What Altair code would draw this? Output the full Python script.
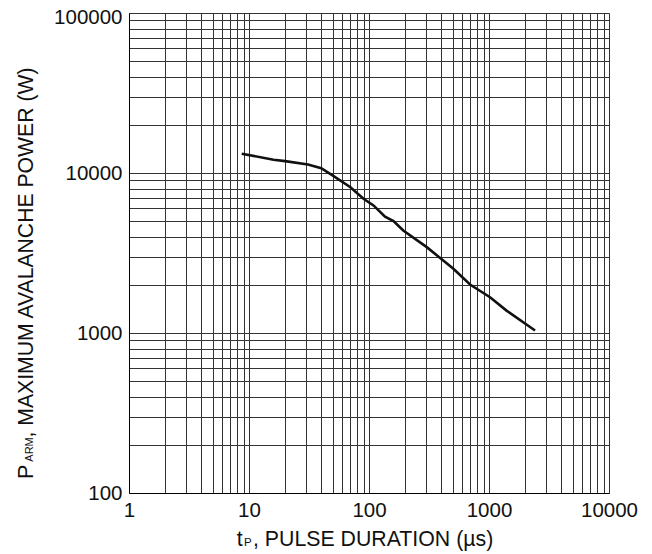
import altair as alt
import pandas as pd

# Curve (pulse duration in µs, power in W)
tp = [8.7, 16, 20, 31, 40, 50, 70, 90, 109, 136, 160, 193, 303, 505, 695, 1020, 1400, 2420]
p_arm = [13200, 12100, 11860, 11300, 10720, 9640, 8150, 6900, 6270, 5340, 5000, 4370, 3440, 2520, 2010, 1674, 1380, 1037]

x_ticks = [m * 10 ** k for k in range(0, 4) for m in range(1, 10)] + [10000]
y_ticks = [m * 10 ** k for k in range(2, 5) for m in range(1, 10)] + [100000]

df = pd.DataFrame({"tp": tp, "p": p_arm})

FONT = "Liberation Sans"
LFS = 20.5
decade_expr = "abs(log(datum.value)/log(10) - round(log(datum.value)/log(10))) < 1e-6 ? format(datum.value, 'd') : ''"

line = alt.Chart(df).mark_line(color="#111111", strokeWidth=2.6).encode(
    x=alt.X("tp:Q", scale=alt.Scale(type="log", domain=[1, 10000]),
            axis=alt.Axis(values=x_ticks, labelExpr=decade_expr, title=None,
                          grid=True, gridColor="#333333", gridWidth=1, gridOpacity=1,
                          ticks=False, domainColor="#000000", labelFont=FONT, labelFontSize=LFS,
                          labelColor="#111111", labelPadding=7, labelFlush=False,
                          labelOverlap=False, labelBound=False)),
    y=alt.Y("p:Q", scale=alt.Scale(type="log", domain=[100, 100000]),
            axis=alt.Axis(values=y_ticks, labelExpr=decade_expr, title=None,
                          grid=True, gridColor="#333333", gridWidth=1, gridOpacity=1,
                          ticks=False, domainColor="#000000", labelFont=FONT, labelFontSize=LFS,
                          labelColor="#111111", labelPadding=7, labelFlush=False,
                          labelOverlap=False, labelBound=False,
                          labelOffset={"condition": {"test": "datum.value >= 99999", "value": 4}, "value": 0})),
)

def txt(s, x, y, size, angle=0):
    return alt.Chart(pd.DataFrame({"t": [s]})).mark_text(
        align="left", baseline="alphabetic", font=FONT, fontSize=size,
        color="#111111", angle=angle).encode(
        text="t:N", x=alt.value(x), y=alt.value(y))

xt = [txt("t", 107.7, 533, 21.3), txt("P", 115, 533, 11.5), txt(", PULSE DURATION (µs)", 124, 533, 21.3)]
yt = [txt("P", -95.7, 466, 21.5, 270), txt("ARM", -95.7, 448.7, 11, 270),
      txt(", MAXIMUM AVALANCHE POWER (W)", -95.7, 424.5, 21.2, 270)]

chart = alt.layer(line, *xt, *yt).properties(
    width=480, height=480,
    autosize=alt.AutoSizeParams(type="none"),
    padding={"left": 121, "top": 5, "right": 35, "bottom": 59},
).configure_view(stroke="#000000", strokeWidth=1).configure(background="white")

chart.save("out.html", embed_options={"renderer": "svg", "actions": False})
